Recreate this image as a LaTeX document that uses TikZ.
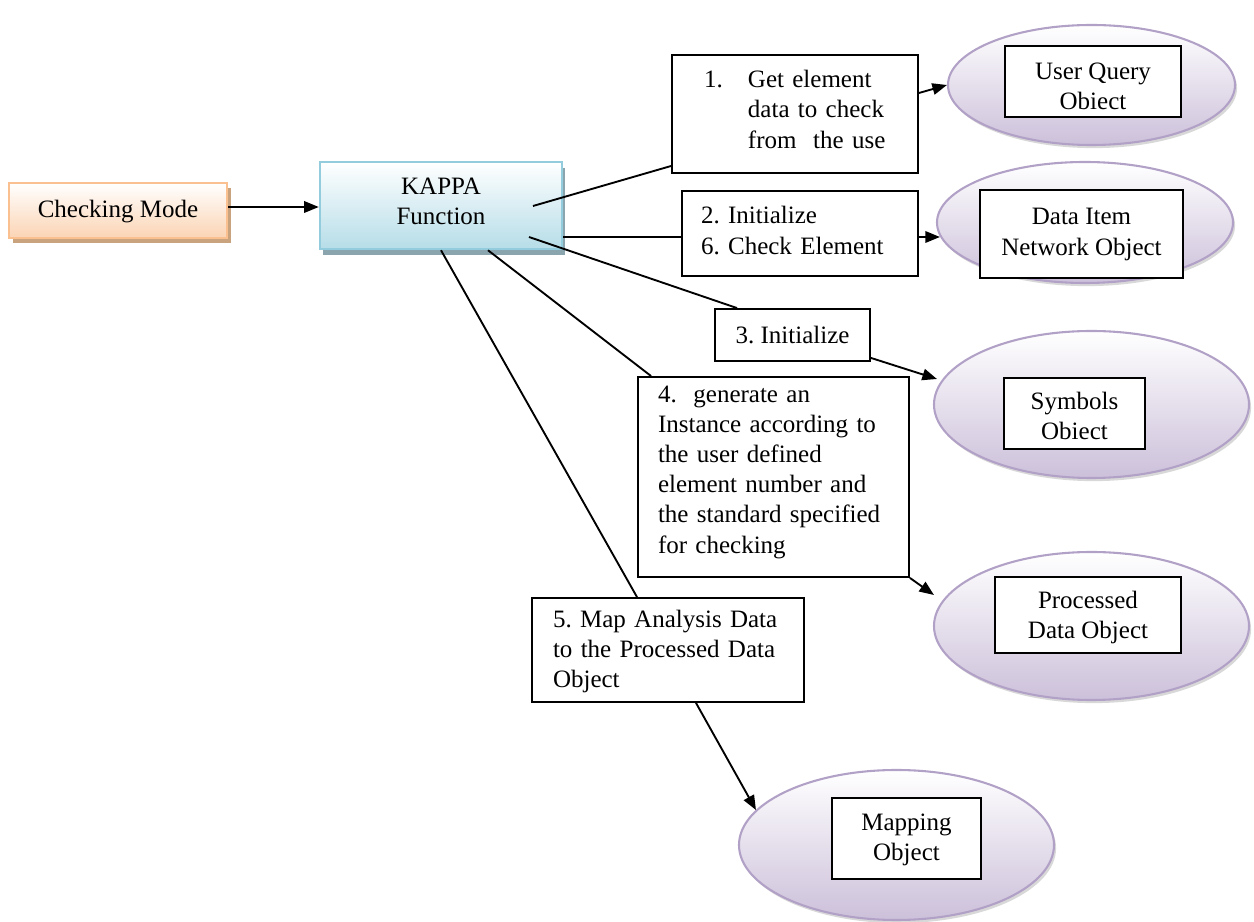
\documentclass[tikz,border=0pt]{standalone}
\usepackage{fontspec}
\setmainfont{Liberation Serif}
\usetikzlibrary{shapes.geometric,arrows.meta,shadows,calc}
\definecolor{orbord}{HTML}{FAC090}
\definecolor{orfill}{HTML}{FBD4B4}
\definecolor{orshad}{HTML}{C9A27E}
\definecolor{blbord}{HTML}{93CDDD}
\definecolor{blfill}{HTML}{B6DDE8}
\definecolor{blshad}{HTML}{8BA5AF}
\definecolor{pubord}{HTML}{B2A1C7}
\definecolor{pufill}{HTML}{CCC0DA}
\newcommand\tb[3]{\raisebox{#1}[\height][\depth]{\begin{tabular}{@{}#2@{}}#3\end{tabular}}}
\frenchspacing
\begin{document}
\begin{tikzpicture}[x=0.48pt,y=-0.48pt,
  font=\fontsize{12}{14.5}\selectfont\frenchspacing,
  every node/.style={inner sep=0pt},
  txtbox/.style={draw=black, line width=0.9pt, fill=white, align=left},
  obj/.style={ellipse, draw=pubord, line width=1pt, top color=white, bottom color=pufill,
     drop shadow={shadow xshift=1pt,shadow yshift=-1.5pt,fill=black!30,opacity=0.5}},
  inbox/.style={draw=black, line width=0.9pt, fill=white},
  conn/.style={line width=0.9pt},
  arr/.style={line width=0.9pt, -{Triangle[length=7pt,width=5.5pt]}}
]
\useasboundingbox (0,0) rectangle (1254,922);

% left boxes
\node[draw=orbord, line width=1.2pt, top color=white, bottom color=orfill,
  minimum width=104.64pt, minimum height=26.4pt,
  drop shadow={shadow xshift=2pt,shadow yshift=-2.4pt,fill=orshad,opacity=1}]
  (cm) at (118,210.5) {\tb{-0.7pt}{c}{Checking Mode}};
\node[draw=blbord, line width=1.2pt, top color=white, bottom color=blfill,
  minimum width=116.16pt, minimum height=41.76pt,
  drop shadow={shadow xshift=1.5pt,shadow yshift=-2.9pt,fill=blshad,opacity=1}]
  (kappa) at (441,205.5) {\tb{1pt}{c}{KAPPA\\Function}};

% text boxes
\node[txtbox, inner xsep=15.36pt, text width=87.36pt, minimum height=56.64pt] (b1) at (795,114)
  {\tb{1pt}{l}{\makebox[21.1pt][l]{1.}Get element\\\hspace*{21.1pt}data to check\\\hspace*{21.1pt}from\ \ the use}};
\node[txtbox, inner xsep=9.12pt, text width=95.04pt, minimum height=40.8pt] (b2) at (800,233.5)
  {\tb{0.3pt}{l}{2. Initialize\\6. Check Element}};
\node[txtbox, minimum width=74.4pt, minimum height=24.96pt] (b3) at (792.5,335)
  {3. Initialize};
\node[txtbox, inner xsep=9.6pt, text width=110.88pt, minimum height=96pt] (b4) at (773.5,477)
  {\tb{2.6pt}{l}{4.\ \ generate an\\Instance according to\\the user defined\\element number and\\the standard specified\\for checking}};
\node[txtbox, inner xsep=10.08pt, text width=110.4pt, minimum height=49.92pt] (b5) at (668,650)
  {\tb{-0.8pt}{l}{5. Map Analysis Data\\to the Processed Data\\Object}};

% objects
\node[obj, minimum width=137.76pt, minimum height=57.6pt] (e1) at (1091.5,85) {};
\node[obj, minimum width=142.08pt, minimum height=58.08pt] (e2) at (1085,222.5) {};
\node[obj, minimum width=151.2pt, minimum height=70.56pt] (e3) at (1091.5,404.5) {};
\node[obj, minimum width=151.2pt, minimum height=71.04pt] (e4) at (1091.5,626) {};
\node[obj, minimum width=151.2pt, minimum height=72pt] (e5) at (896.5,845) {};

\node[inbox, minimum width=84.48pt, minimum height=34.08pt] (i1) at (1093,81.5) {\tb{-3.2pt}{c}{User Query\\Obiect}};
\node[inbox, minimum width=97.44pt, minimum height=42.24pt] (i2) at (1081.5,234) {\tb{0pt}{c}{Data Item\\Network Object}};
\node[inbox, minimum width=67.68pt, minimum height=34.08pt] (i3) at (1074.5,413.5) {\tb{-2.2pt}{c}{Symbols\\Obiect}};
\node[inbox, minimum width=89.28pt, minimum height=36.48pt] (i4) at (1088,615) {\tb{-1pt}{c}{Processed\\Data Object}};
\node[inbox, minimum width=71.52pt, minimum height=38.88pt] (i5) at (906.5,838.5) {\tb{-0.5pt}{c}{Mapping\\Object}};

% connectors
\coordinate (c0) at ($(cm.east)+(0,-3.5)$);
\draw[arr] (c0) -- (c0 -| kappa.west);
\coordinate (k1) at ($(kappa.center)+(92,0.5)$);
\draw[conn] (k1) -- ($(b1.west)+(0,52)$);
\coordinate (k2) at ($(kappa.east)+(0,31.5)$);
\draw[conn] (k2) -- (k2 -| b2.west);
\coordinate (k3) at ($(kappa.center)+(88,31.5)$);
\draw[conn] (k3) -- ($(b3.north)+(-55.5,0)$);
\draw[conn] ($(kappa.south)+(47,0)$) -- ($(b4.north west)+(14,0)$);
\draw[conn] (kappa.south) -- ($(b5.north)+(-31,0)$);

\draw[arr] ($(b1.east)+(0,-21)$) -- (e1.west);
\draw[arr] (k2 -| b2.east) -- ($(e2.west)+(4,14.5)$);
\draw[arr] ($(b3.south east)+(0,-4)$) -- ($(e3.west)+(4,-25.5)$);
\draw[arr] (b4.south east) -- ($(e4.west)+(1,-31)$);
\draw[arr] ($(b5.south)+(28,0)$) -- ($(e5.west)+(18,-35)$);
\end{tikzpicture}
\end{document}
